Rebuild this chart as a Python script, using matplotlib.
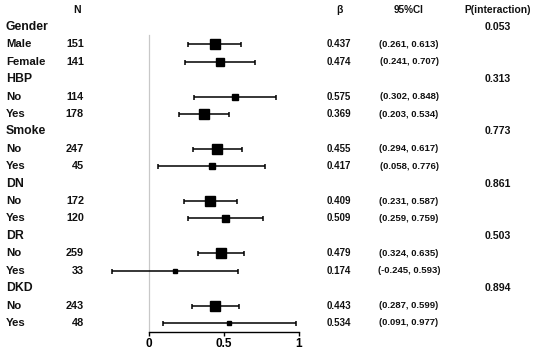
import matplotlib
matplotlib.use('Agg')
import matplotlib.pyplot as plt
import matplotlib.transforms as mtransforms

plt.rcParams['font.family'] = ['Liberation Sans', 'DejaVu Sans']

groups = ['Gender', 'HBP', 'Smoke', 'DN', 'DR', 'DKD']
subgroups = [['Male', 'Female'], ['No', 'Yes'], ['No', 'Yes'],
             ['No', 'Yes'], ['No', 'Yes'], ['No', 'Yes']]
n_values = [[151, 141], [114, 178], [247, 45], [172, 120], [259, 33], [243, 48]]
beta = [[0.437, 0.474], [0.575, 0.369], [0.455, 0.417],
        [0.409, 0.509], [0.479, 0.174], [0.443, 0.534]]
ci_low = [[0.261, 0.241], [0.302, 0.203], [0.294, 0.058],
          [0.231, 0.259], [0.324, -0.245], [0.287, 0.091]]
ci_high = [[0.613, 0.707], [0.848, 0.534], [0.617, 0.776],
           [0.587, 0.759], [0.635, 0.593], [0.599, 0.977]]
p_interaction = ['0.053', '0.313', '0.773', '0.861', '0.503', '0.894']


def main():
    fig = plt.figure(figsize=(5.33, 3.48), dpi=100)
    ax = fig.add_axes([89 / 533, 0, (306.5 - 89) / 533, 1])
    ax.set_xlim(-0.4, 1.05)
    ax.set_ylim(18.44, -1.55)

    trans = mtransforms.blended_transform_factory(fig.transFigure, ax.transData)
    fs = 7.2

    def col(x_px, y, s, ha='center', size=fs, weight='bold'):
        ax.text(x_px / 533, y, s, transform=trans, ha=ha, va='center',
                fontsize=size, fontweight=weight, color='#111111')

    # headers
    col(77, -1, 'N', size=7.6)
    col(339, -1, 'β', size=7.6)
    col(409, -1, '95%CI', size=7.2)
    col(498, -1, 'P(interaction)', size=7.4)

    row = 0
    for g, name in enumerate(groups):
        col(6, row, name, ha='left', size=8.8)
        col(498, row, p_interaction[g], size=7.6)
        row += 1
        for k, sub in enumerate(subgroups[g]):
            b = beta[g][k]
            lo, hi = ci_low[g][k], ci_high[g][k]
            col(6, row, sub, ha='left', size=8.2)
            col(84, row, str(n_values[g][k]), ha='right', size=7.8)
            col(339, row, '%.3f' % b, size=7.0)
            col(409, row, '(%.3f, %.3f)' % (lo, hi), size=6.8)
            # marker side grows with precision
            side_px = 2 + 2.5 / (hi - lo)
            ax.errorbar(b, row, xerr=[[b - lo], [hi - b]], fmt='s',
                        color='black', ms=side_px * 0.72, elinewidth=1.1,
                        capsize=1.8, capthick=1.1, zorder=3)
            row += 1

    ax.plot([0, 0], [0.46, 17.52], color='#c8c8c8', lw=0.9, zorder=1)

    for s in ['top', 'right', 'left']:
        ax.spines[s].set_visible(False)
    ax.spines['bottom'].set_position(('data', 17.52))
    ax.spines['bottom'].set_bounds(0, 1)
    ax.spines['bottom'].set_linewidth(1.0)
    ax.set_yticks([])
    ax.set_xticks([0, 0.5, 1])
    ax.set_xticklabels(['0', '0.5', '1'], fontweight='bold')
    ax.tick_params(axis='x', length=3, width=1.0, pad=1, labelsize=8.5)
    ax.patch.set_visible(False)

    fig.savefig('out.png', dpi=100)


if __name__ == '__main__':
    main()
